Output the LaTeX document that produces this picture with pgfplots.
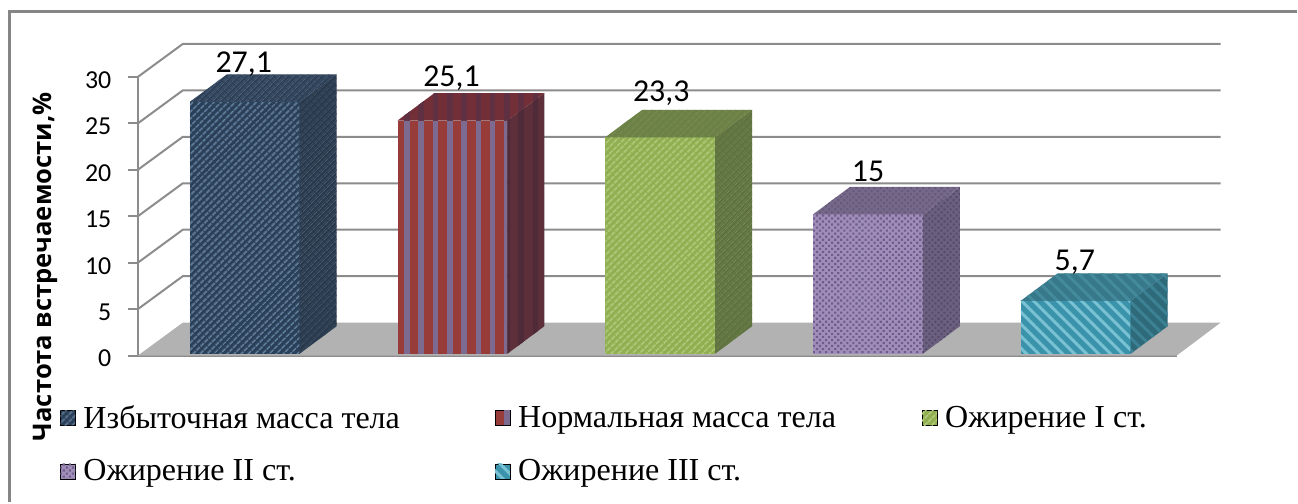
\documentclass[border=0pt]{standalone}
\usepackage{fontspec}
\setmainfont{Liberation Serif}
\newfontfamily\calib{Carlito}
\newfontfamily\ylab{Open Sans}
\usepackage{pgfplots}
\pgfplotsset{compat=1.18}
\usetikzlibrary{patterns.meta}
\definecolor{gr}{HTML}{8C8C8C}
\definecolor{fl}{HTML}{B2B2B2}
\definecolor{af}{HTML}{2A3F58}\definecolor{afp}{HTML}{6585A5}
\definecolor{as}{HTML}{2A3A4E}\definecolor{asp}{HTML}{334457}
\definecolor{at}{HTML}{2F4159}\definecolor{atp}{HTML}{384E67}
\definecolor{bf}{HTML}{983C3A}\definecolor{bfp}{HTML}{7C6A90}
\definecolor{bs}{HTML}{5C2F3A}\definecolor{bsp}{HTML}{4F2A38}
\definecolor{bt}{HTML}{722F38}\definecolor{btp}{HTML}{5F2F42}
\definecolor{cf}{HTML}{8FAF50}\definecolor{cfp}{HTML}{B4CC7C}
\definecolor{cs}{HTML}{5E7340}\definecolor{csp}{HTML}{66793F}
\definecolor{ct}{HTML}{6C8146}\definecolor{ctp}{HTML}{76894E}
\definecolor{df}{HTML}{A08DB8}\definecolor{dfp}{HTML}{6E5C8C}
\definecolor{ds}{HTML}{6C6080}\definecolor{dsp}{HTML}{564B68}
\definecolor{dt}{HTML}{76688A}\definecolor{dtp}{HTML}{655A78}
\definecolor{ef}{HTML}{3A93AB}\definecolor{efp}{HTML}{78C2D4}
\definecolor{es}{HTML}{2E6A7A}\definecolor{esp}{HTML}{3C8294}
\definecolor{et}{HTML}{37788A}\definecolor{etp}{HTML}{438A9C}
\pgfplotsset{
 face/.style={draw=none,forget plot,yshift=1.9bp},
 lg/.style={legend image code/.code={\path[##1,draw=none] (0bp,-8bp) rectangle (15bp,7bp);}},
 hatchA/.style n args={2}{preaction={fill=#1},pattern={Lines[angle=45,distance=5.2bp,line width=1.4bp]},pattern color=#2},
 hatchB/.style n args={2}{preaction={fill=#1},pattern={Lines[angle=90,distance=14.3bp,line width=5.5bp,xshift=7bp]},pattern color=#2},
 hatchC/.style n args={2}{preaction={fill=#1},pattern={Lines[angle=45,distance=5.2bp,line width=1.7bp]},pattern color=#2},
 hatchD/.style n args={2}{preaction={fill=#1},pattern={Dots[radius=1.5bp,distance=4.3bp,angle=45]},pattern color=#2},
 hatchE/.style n args={2}{preaction={fill=#1},pattern={Lines[angle=-45,distance=8.5bp,line width=3bp]},pattern color=#2},
}
\begin{document}
\begin{tikzpicture}
\begin{axis}[
 scale only axis,width=1040bp,height=279bp,
 xmin=138,xmax=1178,ymin=0,ymax=30,clip=false,
 axis x line=bottom,axis y line=left,
 axis line style={gr,line width=2bp,-},
 xtick=\empty,ytick={0,5,...,30},
 tick style={gr,line width=2bp},major tick length=10bp,tick align=outside,
 yticklabel style={font=\calib\fontsize{26}{28}\selectfont,xshift=-13bp,yshift=-3bp},
 /pgf/number format/assume math mode=true,
 every axis y label/.style={at={(axis description cs:-0.0895,0.319)},rotate=90,anchor=center},
 ylabel={\ylab\bfseries\fontsize{25.7}{28}\selectfont Частота встречаемости,\%},
 no markers,
 legend columns=3,
 legend style={at={(axis cs:60,-5.1)},anchor=north west,draw=none,fill=none,inner sep=0pt,
  font=\fontsize{32.2}{34}\selectfont,row sep=26bp,
  /tikz/column 1/.style={column sep=6bp},/tikz/column 3/.style={column sep=6bp},/tikz/column 5/.style={column sep=6bp},
  /tikz/column 2/.style={column sep=93bp},/tikz/column 4/.style={column sep=84bp},
  nodes={inner sep=2bp}},
 legend cell align=left,
]
% frame and picture extent
\path (axis cs:0,38.28) rectangle (axis cs:1298,-15.81);
\draw[gr!95!black,line width=3bp] (axis cs:9.5,-15.81) -- (axis cs:9.5,36.99) -- (axis cs:1298,36.99);
% walls
\addplot[gr,line width=2bp,forget plot] coordinates {(138,5)(183,8.55)(1222,8.55)};
\addplot[gr,line width=2bp,forget plot] coordinates {(138,10)(183,13.55)(1222,13.55)};
\addplot[gr,line width=2bp,forget plot] coordinates {(138,15)(183,18.55)(1222,18.55)};
\addplot[gr,line width=2bp,forget plot] coordinates {(138,20)(183,23.55)(1222,23.55)};
\addplot[gr,line width=2bp,forget plot] coordinates {(138,25)(183,28.55)(1222,28.55)};
\addplot[gr,line width=2bp,forget plot] coordinates {(138,30)(183,33.55)(1222,33.55)};
\addplot[draw=none,fill=fl,forget plot] coordinates {(138,0)(183,3.55)(1222,3.55)(1178,0)} --cycle;
% bar 1
\addplot[face,hatchA={af}{afp}] coordinates {(190,0)(300,0)(300,27.1)(190,27.1)} --cycle;
\addplot[face,hatchA={as}{asp}] coordinates {(300,0)(337,2.96)(337,30.06)(300,27.1)} --cycle;
\addplot[face,hatchA={at}{atp}] coordinates {(190,27.1)(300,27.1)(337,30.06)(227,30.06)} --cycle;
% bar 2
\addplot[face,hatchB={bf}{bfp}] coordinates {(398,0)(508,0)(508,25.1)(398,25.1)} --cycle;
\addplot[face,hatchB={bs}{bsp}] coordinates {(508,0)(545,2.96)(545,28.06)(508,25.1)} --cycle;
\addplot[face,hatchB={bt}{btp}] coordinates {(398,25.1)(508,25.1)(545,28.06)(435,28.06)} --cycle;
% bar 3
\addplot[face,hatchC={cf}{cfp}] coordinates {(606,0)(716,0)(716,23.3)(606,23.3)} --cycle;
\addplot[face,hatchC={cs}{csp}] coordinates {(716,0)(753,2.96)(753,26.26)(716,23.3)} --cycle;
\addplot[face,hatchC={ct}{ctp}] coordinates {(606,23.3)(716,23.3)(753,26.26)(643,26.26)} --cycle;
% bar 4
\addplot[face,hatchD={df}{dfp}] coordinates {(814,0)(924,0)(924,15)(814,15)} --cycle;
\addplot[face,hatchD={ds}{dsp}] coordinates {(924,0)(961,2.96)(961,17.96)(924,15)} --cycle;
\addplot[face,hatchD={dt}{dtp}] coordinates {(814,15)(924,15)(961,17.96)(851,17.96)} --cycle;
% bar 5
\addplot[face,hatchE={ef}{efp}] coordinates {(1022,0)(1132,0)(1132,5.7)(1022,5.7)} --cycle;
\addplot[face,hatchE={es}{esp}] coordinates {(1132,0)(1169,2.96)(1169,8.66)(1132,5.7)} --cycle;
\addplot[face,hatchE={et}{etp}] coordinates {(1022,5.7)(1132,5.7)(1169,8.66)(1059,8.66)} --cycle;
% value labels
\node[font=\calib\fontsize{32}{33}\selectfont] at (axis cs:244,31.4) {27,1};
\node[font=\calib\fontsize{32}{33}\selectfont] at (axis cs:452,29.9) {25,1};
\node[font=\calib\fontsize{32}{33}\selectfont] at (axis cs:662,28.3) {23,3};
\node[font=\calib\fontsize{32}{33}\selectfont] at (axis cs:869,19.8) {15};
\node[font=\calib\fontsize{32}{33}\selectfont] at (axis cs:1076,10) {5,7};
% legend
\addlegendimage{lg,hatchA={af}{afp}}\addlegendentry{Избыточная масса тела}
\addlegendimage{lg,hatchB={bf}{bfp}}\addlegendentry{Нормальная масса тела}
\addlegendimage{lg,hatchC={cf}{cfp}}\addlegendentry{Ожирение I ст.}
\addlegendimage{lg,hatchD={df}{dfp}}\addlegendentry{Ожирение II ст.}
\addlegendimage{lg,hatchE={ef}{efp}}\addlegendentry{Ожирение III ст.}
\end{axis}
\end{tikzpicture}
\end{document}
